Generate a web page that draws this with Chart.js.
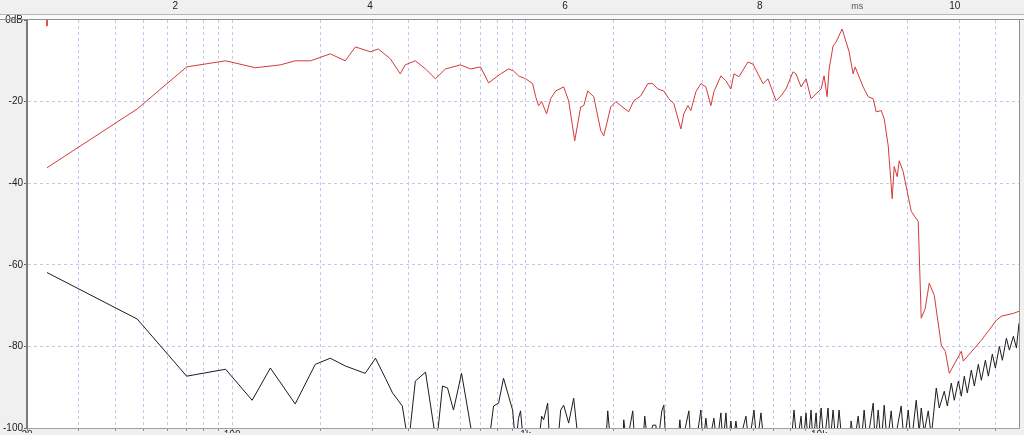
<!DOCTYPE html>
<html>
<head>
<meta charset="utf-8">
<script src="https://cdn.jsdelivr.net/npm/chart.js@4.4.1/dist/chart.umd.min.js"></script>
<style>
  html, body { margin: 0; padding: 0; background: #f0f0f0; }
  #wrap { width: 1024px; height: 435px; position: relative; }
</style>
</head>
<body>
<div id="wrap"><canvas id="fr"></canvas></div>
<script>
// ---- data: frequency (Hz) / level (dB) ----
const redHz = [
  23.4, 47.5, 70, 95, 120, 146, 164, 185, 216, 243,
  263, 296, 315, 346, 374, 389, 421, 456, 493, 533,
  600, 649, 702, 748, 822, 875, 910, 946, 1000, 1057,
  1082, 1107, 1134, 1179, 1217, 1266, 1348, 1402, 1470, 1541,
  1578, 1628, 1707, 1803, 1846, 1890, 1950, 2029, 2110, 2246,
  2336, 2469, 2609, 2713, 2822, 2958, 3076, 3200, 3381, 3461,
  3572, 3657, 3804, 3956, 4115, 4279, 4381, 4629, 4816, 5008,
  5128, 5333, 5724, 5953, 6441, 6698, 7132, 7418, 7716, 8152,
  8346, 8682, 9029, 9391, 9768, 10160, 10400, 10650, 10820, 11160,
  11430, 11980, 12660, 13060, 13270, 14130, 14700, 15290, 15650, 16280,
  16670, 17200, 17750, 18030, 18460, 18750, 19350, 20610, 21770, 22290,
  23000, 23730, 24690, 26090, 26920, 27780, 30520, 31010, 35720, 40190,
  41800, 45940, 48000
];
const redDb = [
  -36.2, -21.8, -11.5, -10.0, -11.7, -11.0, -10.0, -10.0, -8.3, -10.0,
  -6.6, -7.8, -7.1, -9.5, -13.2, -11.0, -10.0, -12.0, -14.4, -12.0,
  -11.0, -12.0, -11.5, -15.4, -13.2, -12.0, -12.5, -13.7, -14.4, -15.6,
  -18.8, -21.0, -20.0, -23.0, -19.3, -17.4, -16.4, -19.8, -29.6, -21.3,
  -21.0, -17.4, -18.8, -27.1, -28.4, -25.4, -21.3, -20.0, -21.0, -22.5,
  -19.8, -18.6, -15.6, -15.6, -16.9, -17.4, -19.3, -20.5, -26.7, -23.0,
  -21.0, -22.2, -17.6, -15.6, -16.4, -21.0, -17.6, -13.7, -14.9, -16.9,
  -13.2, -13.9, -10.3, -10.8, -15.6, -14.4, -19.8, -18.6, -16.9, -12.7,
  -13.2, -16.4, -14.4, -19.3, -18.1, -16.9, -13.7, -18.8, -12.0, -6.4,
  -5.4, -2.2, -7.8, -13.2, -11.5, -16.4, -18.8, -19.3, -22.5, -22.2,
  -24.2, -30.8, -43.8, -35.9, -38.4, -34.5, -37.2, -46.9, -49.4, -73.1,
  -70.7, -64.5, -67.5, -79.7, -81.2, -86.6, -81.2, -83.6, -78.5, -73.6,
  -72.6, -71.9, -71.4
];
// small red marker at the top left
const markHz = [23.4, 23.4];
const markDb = [0, -1.5];

const blackHz = [
  23.4, 47.5, 70, 95, 117, 135, 164, 192, 216, 243,
  284, 308, 333, 352, 380, 399, 421, 456, 497, 521,
  542, 568, 605, 634, 665, 748, 778, 809, 841, 903,
  925, 946, 961, 984, 1107, 1134, 1152, 1189, 1207, 1286,
  1317, 1348, 1402, 1458, 1516, 1875, 1905, 1950, 2143, 2160,
  2211, 2318, 2355, 2508, 2547, 2609, 2713, 2778, 2822, 2912,
  2958, 3005, 3300, 3355, 3408, 3600, 3657, 3804, 3956, 4019, 4115,
  4213, 4381, 4487, 4629, 4704, 4816, 4891, 5008, 5088, 5208,
  5333, 5634, 5768, 6000, 6143, 6339, 6492, 8025, 8216, 8412,
  8682, 8818, 9029, 9174, 9391, 9539, 9768, 9921, 10160, 10400,
  10730, 10900, 11160, 11430, 11700, 11980, 12700, 12860, 13170, 13590,
  13910, 14240, 14580, 15290, 15530, 15900, 16280, 16670, 17070, 17610,
  18030, 19050, 19500, 20130, 20610, 21430, 21940, 22290, 22820, 23550,
  24120, 25080, 25680, 26710, 27350, 28220, 28890, 29830, 30520, 31250,
  32000, 33020, 33810, 34890, 35720, 36870, 37740, 38940, 39880, 41150,
  42130, 43480, 44510, 45940, 47040, 48000
];
const blackDb = [
  -61.9, -73.3, -87.3, -85.6, -93.2, -85.3, -94.1, -84.4, -82.9, -84.8,
  -86.6, -82.9, -87.8, -91.4, -94.6, -104, -88.5, -86.3, -104, -89.7,
  -90.2, -95.6, -86.6, -95.1, -104, -104, -94.6, -93.9, -87.8, -95.6,
  -104, -97.6, -95.8, -104, -104, -97.1, -98.0, -93.9, -104, -104,
  -95.6, -94.4, -98.8, -92.7, -104, -104, -95.8, -104, -104, -98.0,
  -104, -95.8, -104, -104, -97.1, -104, -99.3, -99.3, -104, -95.8,
  -94.4, -104, -104, -98.0, -104, -95.8, -104, -104, -95.6, -104, -97.6,
  -104, -97.6, -104, -96.3, -104, -96.3, -104, -98.3, -104, -98.3,
  -104, -97.1, -104, -95.6, -104, -96.3, -104, -104, -95.6, -104,
  -97.1, -104, -96.3, -104, -95.6, -104, -96.3, -104, -95.1, -104,
  -95.1, -104, -95.6, -104, -95.6, -104, -104, -98.3, -104, -97.1,
  -104, -95.6, -104, -93.9, -104, -95.6, -104, -94.4, -104, -95.8,
  -104, -94.6, -104, -95.6, -104, -93.2, -101, -95.1, -101, -95.8,
  -102, -90.2, -95.1, -91.0, -94.6, -89.0, -93.2, -88.5, -92.2, -87.3,
  -91.4, -85.8, -89.7, -84.4, -88.3, -83.4, -87.3, -81.9, -85.3, -80.0,
  -83.4, -78.0, -80.9, -77.5, -80.4, -74.3
];

// ---- axes ----
const hzMin = 20, hzMax = 48000;
const msMin = 0.479, msMax = 10.66;
const dbTicks = [0, -20, -40, -60, -80, -100];
const hzLabelAt = [20, 100, 1000, 10000];
const hzLabelText = ['20', '100', '1k', '10k'];
const msTicks = [2, 4, 6, 8, 9, 10];
const msLabels = ['2', '4', '6', '8', 'ms', '10'];

const hzGrid = [];
[10, 100, 1000, 10000].forEach(d => {
  for (let m = 1; m <= 9; m++) {
    const v = d * m;
    if (v >= hzMin && v < hzMax) hzGrid.push(v);
  }
});

const gridColor = '#c6c6f4';
const clear = 'rgba(0,0,0,0)';
const toPts = (xs, ys) => xs.map((x, i) => ({ x, y: ys[i] }));

Chart.defaults.font.family = '"Liberation Sans", "DejaVu Sans", sans-serif';
Chart.defaults.font.size = 10;
Chart.defaults.color = '#222';

// white plot area, double rule under the ms strip, right frame
const plotFrame = {
  id: 'plotFrame',
  beforeDraw(chart) {
    const { ctx, chartArea: a } = chart;
    ctx.save();
    ctx.fillStyle = '#fafafa';
    ctx.fillRect(0, a.top - 6, chart.width, 6);
    ctx.fillStyle = '#fff';
    ctx.fillRect(a.left, a.top, a.right - a.left, a.bottom - a.top);
    ctx.lineWidth = 1;
    ctx.strokeStyle = '#b4b4b4';
    ctx.beginPath(); ctx.moveTo(0, a.top - 5.5); ctx.lineTo(chart.width, a.top - 5.5); ctx.stroke();
    ctx.restore();
  },
  afterDraw(chart) {
    const { ctx, chartArea: a } = chart;
    ctx.save();
    ctx.lineWidth = 1;
    ctx.strokeStyle = '#909090';
    ctx.beginPath();
    ctx.moveTo(0, a.top - 0.5); ctx.lineTo(chart.width, a.top - 0.5);
    ctx.moveTo(a.right + 0.5, a.top); ctx.lineTo(a.right + 0.5, a.bottom);
    ctx.stroke();
    ctx.restore();
  }
};

new Chart(document.getElementById('fr'), {
  type: 'line',
  data: {
    datasets: [
      { data: toPts(redHz, redDb), borderColor: '#d63a3a', borderWidth: 1, pointRadius: 0, tension: 0 },
      { data: toPts(markHz, markDb), borderColor: '#d63a3a', borderWidth: 1, pointRadius: 0 },
      { data: toPts(blackHz, blackDb), borderColor: '#1c1c1c', borderWidth: 1, pointRadius: 0, tension: 0 }
    ]
  },
  options: {
    responsive: true,
    maintainAspectRatio: false,
    animation: false,
    layout: { padding: { left: 0, right: 5, top: 0, bottom: -1 } },
    plugins: { legend: { display: false }, tooltip: { enabled: false } },
    scales: {
      x: {
        type: 'logarithmic', position: 'bottom', min: hzMin, max: hzMax,
        afterBuildTicks: a => { a.ticks = hzGrid.map(v => ({ value: v })); },
        afterFit: a => { a.height = 5; },
        grid: {
          color: c => (c.tick && c.tick.value === hzMin) ? clear : gridColor,
          tickLength: 3, tickColor: '#8c8c8c'
        },
        border: { color: '#a0a0a0', width: 1, dash: [3, 3] },
        ticks: {
          autoSkip: false, maxRotation: 0, padding: -2,
          callback: v => { const i = hzLabelAt.indexOf(v); return i < 0 ? '' : hzLabelText[i]; }
        }
      },
      x2: {
        type: 'linear', position: 'top', min: msMin, max: msMax,
        afterBuildTicks: a => { a.ticks = msTicks.map(v => ({ value: v })); },
        afterFit: a => { a.height = 20; },
        grid: { display: false, drawTicks: false },
        border: { display: false },
        ticks: {
          autoSkip: false, maxRotation: 0, padding: 8,
          callback: v => msLabels[msTicks.indexOf(v)],
          font: c => ({ size: (c.tick && c.tick.value === 9) ? 9 : 10 }),
          color: c => (c.tick && c.tick.value === 9) ? '#555' : '#222'
        }
      },
      y: {
        min: -100, max: 0,
        afterBuildTicks: a => { a.ticks = dbTicks.map(v => ({ value: v })); },
        afterFit: a => { a.width = 27; },
        grid: {
          color: c => (c.tick && (c.tick.value === 0 || c.tick.value === -100)) ? clear : gridColor,
          tickLength: 3, tickColor: '#666'
        },
        border: { color: '#7c7c7c', width: 2, dash: [3, 3] },
        ticks: { padding: 1, callback: v => v === 0 ? '0dB' : String(v) }
      }
    }
  },
  plugins: [plotFrame]
});
</script>
</body>
</html>
